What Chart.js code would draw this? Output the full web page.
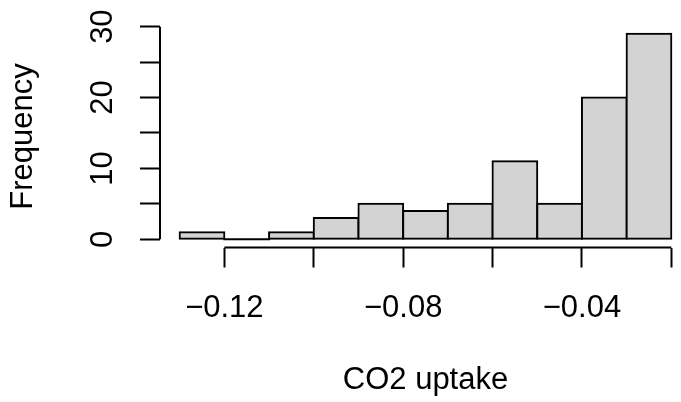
<!DOCTYPE html>
<html>
<head>
<meta charset="utf-8">
<script src="https://cdn.jsdelivr.net/npm/chart.js@4.4.1/dist/chart.umd.min.js"></script>
<style>
  html, body { margin: 0; padding: 0; background: #ffffff; overflow: hidden; width: 681px; height: 402px; }
  #wrap { position: relative; width: 700px; height: 402px; }
</style>
</head>
<body>
<div id="wrap"><canvas id="c" width="700" height="402"></canvas></div>
<script>
// ---- data ----
const binEdges = [-0.13, -0.12, -0.11, -0.10, -0.09, -0.08, -0.07, -0.06, -0.05, -0.04, -0.03, -0.02];
const counts   = [1, 0, 1, 3, 5, 4, 5, 11, 5, 20, 29];
const xTicks      = [-0.12, -0.10, -0.08, -0.06, -0.04, -0.02];
const xTickLabels = ['\u22120.12', '', '\u22120.08', '', '\u22120.04', ''];
const yTicks      = [0, 5, 10, 15, 20, 25, 30];
const yTickLabels = ['0', '', '10', '', '20', '', '30'];
const xLimits = [-0.1344, -0.0156];
const yLimits = [-1.16, 30.16];
const xTitle = 'CO2 uptake';
const yTitle = 'Frequency';

const binCenters = binEdges.slice(0, -1).map((e, i) => (e + binEdges[i + 1]) / 2);

const FAMILY = "'Liberation Sans', Arial, Helvetica, sans-serif";
const FSIZE = 31;

const rAxesPlugin = {
  id: 'rAxes',
  afterDraw(chart) {
    const { ctx, chartArea, scales: { x, y } } = chart;
    ctx.save();
    ctx.strokeStyle = '#000';
    ctx.lineWidth = 2;
    ctx.beginPath();
    ctx.moveTo(x.getPixelForValue(xTicks[0]), chartArea.bottom);
    ctx.lineTo(x.getPixelForValue(xTicks[xTicks.length - 1]), chartArea.bottom);
    ctx.moveTo(chartArea.left, y.getPixelForValue(yTicks[0]));
    ctx.lineTo(chartArea.left, y.getPixelForValue(yTicks[yTicks.length - 1]));
    ctx.stroke();
    ctx.fillStyle = '#000';
    ctx.font = FSIZE + 'px ' + FAMILY;
    ctx.textAlign = 'center';
    ctx.textBaseline = 'alphabetic';
    yTicks.forEach((v, i) => {
      const t = yTickLabels[i];
      if (!t) return;
      ctx.save();
      ctx.translate(chartArea.left - 48.3, y.getPixelForValue(v));
      ctx.rotate(-Math.PI / 2);
      ctx.fillText(t, 0, 0);
      ctx.restore();
    });
    ctx.restore();
  }
};

new Chart(document.getElementById('c'), {
  type: 'bar',
  data: {
    datasets: [{
      data: binCenters.map((c, i) => ({ x: c, y: counts[i] })),
      backgroundColor: (c) => (c.raw && c.raw.y === 0 ? '#000000' : '#D3D3D3'),
      borderColor: '#000000',
      borderWidth: (c) => (c.raw && c.raw.y === 0 ? 0 : 2),
      borderSkipped: false,
      inflateAmount: 1,
      barPercentage: 1,
      categoryPercentage: 1
    }]
  },
  options: {
    responsive: false,
    animation: false,
    devicePixelRatio: 1,
    layout: { padding: { top: 25.5, right: 9, bottom: 0, left: 0 } },
    plugins: { legend: { display: false }, tooltip: { enabled: false } },
    scales: {
      x: {
        type: 'linear',
        offset: false,
        min: xLimits[0],
        max: xLimits[1],
        afterBuildTicks: (s) => { s.ticks = xTicks.map(v => ({ value: v })); },
        afterFit: (s) => { s.height = 154.5; },
        border: { display: false },
        grid: { offset: false, drawOnChartArea: false, drawTicks: true, tickLength: 20, tickWidth: 2, tickColor: '#000' },
        ticks: {
          autoSkip: false, maxRotation: 0, minRotation: 0, padding: 22.3, color: '#000',
          font: { family: FAMILY, size: FSIZE },
          callback: (v, i) => xTickLabels[i]
        },
        title: { display: true, text: xTitle, color: '#000', font: { family: FAMILY, size: FSIZE }, padding: { top: 0, bottom: 3.1 } }
      },
      y: {
        type: 'linear',
        min: yLimits[0],
        max: yLimits[1],
        afterBuildTicks: (s) => { s.ticks = yTicks.map(v => ({ value: v })); },
        afterFit: (s) => { s.width = 160; },
        border: { display: false },
        grid: { drawOnChartArea: false, drawTicks: true, tickLength: 20, tickWidth: 2, tickColor: '#000' },
        ticks: { display: false },
        title: { display: true, text: yTitle, color: '#000', font: { family: FAMILY, size: FSIZE }, padding: { top: 5, bottom: 0 } }
      }
    }
  },
  plugins: [rAxesPlugin]
});
</script>
</body>
</html>
